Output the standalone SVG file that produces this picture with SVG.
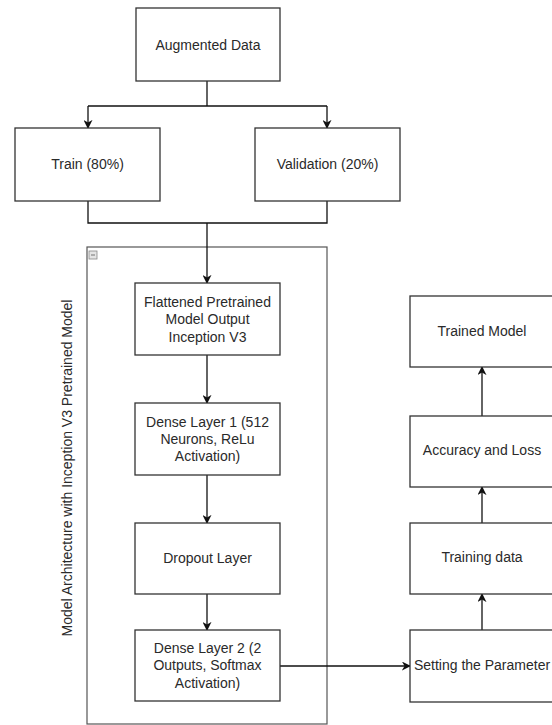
<svg xmlns="http://www.w3.org/2000/svg" width="552" height="725" viewBox="0 0 552 725">
  <defs>
    <style>
      .box { fill: #ffffff; stroke: #333333; stroke-width: 1.3; }
      .frame { fill: none; stroke: #555555; stroke-width: 1.2; }
      .lbl { font-family: "Liberation Sans", Arial, sans-serif; font-size: 14px; fill: #2a2a2a; text-anchor: middle; dominant-baseline: central; }
      .edge { fill: none; stroke: #111111; stroke-width: 1.3; }
    </style>
    <marker id="arrow" viewBox="0 0 10 10" refX="9" refY="5" markerWidth="9" markerHeight="9" markerUnits="userSpaceOnUse" orient="auto">
      <path d="M0,0 L10,5 L0,10 L3,5 Z" fill="#111111"/>
    </marker>
  </defs>
  <rect width="552" height="725" fill="#ffffff"/>

  <!-- container for the model architecture -->
  <g id="container">
    <rect class="frame" x="87" y="247" width="240" height="477"/>
    <rect x="89" y="251" width="8" height="8" fill="#e4e4e4" stroke="#888888" stroke-width="0.8"/>
    <line x1="91" y1="255" x2="95" y2="255" stroke="#666666" stroke-width="0.9"/>
    <text class="lbl" transform="translate(67,468) rotate(-90)">Model Architecture with Inception V3 Pretrained Model</text>
  </g>

  <g id="connectors">
    <!-- split of augmented data -->
    <polyline class="edge" points="207,81 207,106"/>
    <polyline class="edge" points="88,106 327,106"/>
    <polyline class="edge" points="88,106 88,128" marker-end="url(#arrow)"/>
    <polyline class="edge" points="327,106 327,128" marker-end="url(#arrow)"/>
    <!-- merge of train / validation -->
    <polyline class="edge" points="88,201 88,223 327,223 327,201"/>
    <polyline class="edge" points="207,223 207,283" marker-end="url(#arrow)"/>
    <!-- model layers -->
    <polyline class="edge" points="207,355 207,403" marker-end="url(#arrow)"/>
    <polyline class="edge" points="207,475 207,523" marker-end="url(#arrow)"/>
    <polyline class="edge" points="207,594 207,630" marker-end="url(#arrow)"/>
    <!-- to training pipeline -->
    <polyline class="edge" points="280,666 410,666" marker-end="url(#arrow)"/>
    <polyline class="edge" points="482,630 482,594" marker-end="url(#arrow)"/>
    <polyline class="edge" points="482,523 482,487" marker-end="url(#arrow)"/>
    <polyline class="edge" points="482,416 482,367" marker-end="url(#arrow)"/>
  </g>

  <g id="augmented-data">
    <rect class="box" x="136" y="8" width="144" height="73"/>
    <text class="lbl" x="208" y="45">Augmented Data</text>
  </g>
  <g id="train">
    <rect class="box" x="15" y="128" width="145" height="73"/>
    <text class="lbl" x="87.5" y="164">Train (80%)</text>
  </g>
  <g id="validation">
    <rect class="box" x="255" y="128" width="145" height="73"/>
    <text class="lbl" x="327.5" y="164">Validation (20%)</text>
  </g>

  <g id="flattened">
    <rect class="box" x="135" y="283" width="145" height="72"/>
    <text class="lbl" x="207.5" y="302">Flattened Pretrained</text>
    <text class="lbl" x="207.5" y="319">Model Output</text>
    <text class="lbl" x="207.5" y="337">Inception V3</text>
  </g>
  <g id="dense-1">
    <rect class="box" x="135" y="403" width="145" height="72"/>
    <text class="lbl" x="207.5" y="422">Dense Layer 1 (512</text>
    <text class="lbl" x="207.5" y="439">Neurons, ReLu</text>
    <text class="lbl" x="207.5" y="456">Activation)</text>
  </g>
  <g id="dropout">
    <rect class="box" x="135" y="523" width="145" height="71"/>
    <text class="lbl" x="207.5" y="558">Dropout Layer</text>
  </g>
  <g id="dense-2">
    <rect class="box" x="135" y="630" width="145" height="71"/>
    <text class="lbl" x="207.5" y="648">Dense Layer 2 (2</text>
    <text class="lbl" x="207.5" y="665">Outputs, Softmax</text>
    <text class="lbl" x="207.5" y="683">Activation)</text>
  </g>

  <g id="trained-model">
    <rect class="box" x="410" y="296" width="145" height="71"/>
    <text class="lbl" x="482" y="331">Trained Model</text>
  </g>
  <g id="accuracy-loss">
    <rect class="box" x="410" y="416" width="145" height="71"/>
    <text class="lbl" x="482" y="450">Accuracy and Loss</text>
  </g>
  <g id="training-data">
    <rect class="box" x="410" y="523" width="145" height="71"/>
    <text class="lbl" x="482" y="557">Training data</text>
  </g>
  <g id="setting-parameter">
    <rect class="box" x="410" y="630" width="145" height="72"/>
    <text class="lbl" x="482" y="665">Setting the Parameter</text>
  </g>
</svg>
